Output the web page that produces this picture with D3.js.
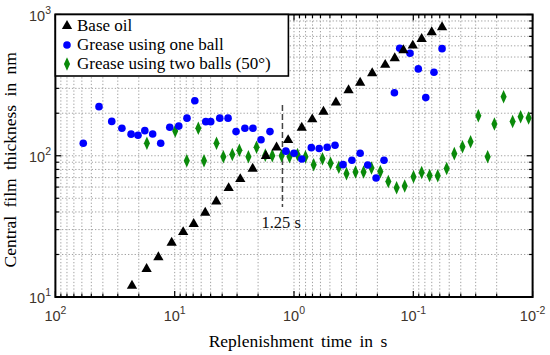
<!DOCTYPE html>
<html>
<head>
<meta charset="utf-8">
<script src="https://cdn.jsdelivr.net/npm/d3@7"></script>
<style>
  body { margin: 0; background: #fff; }
  svg { display: block; }
</style>
</head>
<body>
<svg id="chart" width="550" height="355"></svg>
<script>
// Replenishment time (s) and central film thickness (nm)
const baseTime = [22.8, 17.2, 13.7, 10.6, 8.49, 6.93, 5.55, 4.48, 3.53, 2.82, 2.22, 1.72, 1.40, 1.12,
  0.861, 0.703, 0.566, 0.445, 0.349, 0.279, 0.221, 0.172, 0.143, 0.121, 0.101, 0.0851, 0.0701, 0.0574];
const baseFilm = [12.0, 15.8, 19.1, 24.2, 28.8, 32.9, 39.5, 47.5, 59.0, 68.3, 80.9, 99.7, 114.5, 129,
  158, 181, 205, 238, 291, 329, 384, 440, 490, 559, 602, 670, 749, 813];

const oneTime = [58.4, 43.1, 33.7, 27.7, 23.2, 20.3, 17.8, 15.3, 13.1, 11.0, 9.24, 7.89, 6.78, 5.49, 4.99,
  4.19, 3.57, 3.06, 2.58, 2.21, 1.89, 1.59, 1.17, 1.00, 0.860, 0.716, 0.615, 0.527, 0.453, 0.388, 0.327,
  0.279, 0.241, 0.205, 0.176, 0.144, 0.130, 0.1066, 0.0908, 0.0786, 0.0671, 0.0574];
const oneFilm = [122.6, 222.7, 175, 156.6, 142.2, 139.7, 150.6, 142.7, 122.6, 159.2, 162.1, 184.6, 245.3, 174.4, 174.4,
  184.6, 184.6, 148.2, 156.6, 156.6, 129.8, 148.2, 107.8, 104.2, 94.9, 114.1, 112.6, 114.9, 118.7, 86.5, 92.9,
  104.2, 86.1, 69.6, 92.9, 279.3, 577, 532, 412, 258, 390, 573];

const twoTime = [17.1, 9.90, 7.92, 6.34, 5.68, 4.46, 3.91, 3.29, 2.87, 2.41, 2.06, 1.74, 1.52, 1.27, 1.09,
  0.935, 0.801, 0.684, 0.577, 0.494, 0.421, 0.363, 0.305, 0.261, 0.224, 0.189, 0.162, 0.138, 0.118,
  0.0996, 0.0851, 0.0730, 0.0624, 0.0525, 0.0453, 0.0387, 0.0331, 0.0285, 0.0238, 0.0209, 0.0175,
  0.0147, 0.0126, 0.0108];
const twoFilm = [122.6, 149.8, 92.3, 156.6, 92.3, 122.6, 98.5, 102.1, 109.4, 98.5, 114.9, 101, 100.2, 100, 98.5,
  102.1, 98.5, 86.4, 95.2, 88.5, 82.9, 74.7, 76.8, 76.8, 81.9, 77.2, 65.8, 59.4, 61.1,
  71.0, 76.2, 72.5, 72.2, 81.3, 103.5, 116.0, 125.7, 192, 98.5, 168, 262,
  175, 189, 185];

const legendLabels = ["Base oil", "Grease using one ball", "Grease using two balls (50°)"];
const xTickExp = [2, 1, 0, -1, -2];
const yTickExp = [3, 2, 1];
const markTime = 1.25;

const svg = d3.select("#chart");
const pLeft = 55.4, pRight = 532.6, pTop = 14.5, pBottom = 297;

const x = d3.scaleLog().domain([100, 0.01]).range([pLeft, pRight]);
const y = d3.scaleLog().domain([10, 1000]).range([pBottom, pTop]);

// all grid positions: 1..9 times each power of ten
const xGrid = [];
for (let e = -2; e < 2; e++) for (let k = 1; k < 10; k++) xGrid.push(k * Math.pow(10, e));
xGrid.push(100);
const yGrid = [];
for (let e = 1; e < 3; e++) for (let k = 1; k < 10; k++) yGrid.push(k * Math.pow(10, e));
yGrid.push(1000);

const grid = svg.append("g")
  .attr("stroke", "#a0a0a0")
  .attr("stroke-width", 1)
  .attr("stroke-dasharray", "1.3,2");
grid.selectAll(".gx").data(xGrid).enter().append("line")
  .attr("x1", d => x(d)).attr("x2", d => x(d))
  .attr("y1", pTop).attr("y2", pBottom);
grid.selectAll(".gy").data(yGrid).enter().append("line")
  .attr("x1", pLeft).attr("x2", pRight)
  .attr("y1", d => y(d)).attr("y2", d => y(d));

// inward ticks on all four sides
const isMajor = d => Math.abs(Math.log10(d) - Math.round(Math.log10(d))) < 1e-9;
const tk = svg.append("g").attr("stroke", "#000").attr("stroke-width", 1.2);
xGrid.forEach(d => {
  const len = isMajor(d) ? 6 : 3.5;
  tk.append("line").attr("x1", x(d)).attr("x2", x(d)).attr("y1", pBottom).attr("y2", pBottom - len);
  tk.append("line").attr("x1", x(d)).attr("x2", x(d)).attr("y1", pTop).attr("y2", pTop + len);
});
yGrid.forEach(d => {
  const len = isMajor(d) ? 6 : 3.5;
  tk.append("line").attr("y1", y(d)).attr("y2", y(d)).attr("x1", pLeft).attr("x2", pLeft + len);
  tk.append("line").attr("y1", y(d)).attr("y2", y(d)).attr("x1", pRight).attr("x2", pRight - len);
});

// dashed marker at 1.25 s
svg.append("line")
  .attr("x1", x(markTime)).attr("x2", x(markTime))
  .attr("y1", 105).attr("y2", 207)
  .attr("stroke", "#444").attr("stroke-width", 1.5)
  .attr("stroke-dasharray", "6,3");
svg.append("text")
  .attr("x", x(markTime) - 21).attr("y", 228)
  .attr("font-family", "Liberation Serif, serif").attr("font-size", 16.5)
  .attr("fill", "#111")
  .text("1.25 s");

// markers
const tri = d3.symbol().type(d3.symbolTriangle).size(46);
const dia = d3.symbol().type(d3.symbolDiamond).size(40);

svg.append("g").selectAll("path").data(twoTime).enter().append("path")
  .attr("d", dia)
  .attr("transform", (d, i) => `translate(${x(d)},${y(twoFilm[i])}) scale(0.9,1.15)`)
  .attr("fill", "#0a8a0a");

svg.append("g").selectAll("circle").data(oneTime).enter().append("circle")
  .attr("cx", d => x(d)).attr("cy", (d, i) => y(oneFilm[i]))
  .attr("r", 3.8)
  .attr("fill", "#0000ff");

svg.append("g").selectAll("path").data(baseTime).enter().append("path")
  .attr("d", tri)
  .attr("transform", (d, i) => `translate(${x(d)},${y(baseFilm[i])})`)
  .attr("fill", "#000");

// frame
svg.append("rect")
  .attr("x", pLeft).attr("y", pTop)
  .attr("width", pRight - pLeft).attr("height", pBottom - pTop)
  .attr("fill", "none").attr("stroke", "#000").attr("stroke-width", 2);

// legend
const lg = svg.append("g");
lg.append("rect")
  .attr("x", pLeft).attr("y", pTop).attr("width", 233).attr("height", 61.5)
  .attr("fill", "#fff").attr("stroke", "#000").attr("stroke-width", 1.6);
const legendRows = [26, 45, 64];
lg.append("path").attr("d", tri).attr("transform", `translate(67,${legendRows[0]})`).attr("fill", "#000");
lg.append("circle").attr("cx", 67).attr("cy", legendRows[1]).attr("r", 3.8).attr("fill", "#0000ff");
lg.append("path").attr("d", dia)
  .attr("transform", `translate(67,${legendRows[2]}) scale(0.9,1.15)`).attr("fill", "#0a8a0a");
lg.selectAll("text").data(legendLabels).enter().append("text")
  .attr("x", 77).attr("y", (d, i) => legendRows[i] + 5)
  .attr("font-family", "Liberation Serif, serif").attr("font-size", 17)
  .attr("fill", "#000")
  .text(d => d);

// tick labels as 10^n
const tickFont = "Liberation Sans, sans-serif";
const tickColor = "#3d342c";
function powLabel(sel, e) {
  sel.append("tspan").text("10");
  sel.append("tspan").attr("dy", -7).attr("font-size", 10.5).text(e);
}
xTickExp.forEach(e => {
  const t = svg.append("text")
    .attr("x", x(Math.pow(10, e))).attr("y", 321)
    .attr("text-anchor", "middle")
    .attr("font-family", tickFont).attr("font-size", 14.5)
    .attr("fill", tickColor);
  powLabel(t, e);
});
yTickExp.forEach(e => {
  const t = svg.append("text")
    .attr("x", 29).attr("y", y(Math.pow(10, e)) + 6)
    .attr("font-family", tickFont).attr("font-size", 14.5)
    .attr("fill", tickColor);
  powLabel(t, e);
});

// axis titles
svg.append("text")
  .attr("x", 298).attr("y", 347)
  .attr("text-anchor", "middle")
  .attr("font-family", "Liberation Serif, serif").attr("font-size", 17.5)
  .attr("word-spacing", 3)
  .text("Replenishment time in s");
svg.append("text")
  .attr("transform", `translate(16,${(pTop + pBottom) / 2 + 4}) rotate(-90)`)
  .attr("text-anchor", "middle")
  .attr("font-family", "Liberation Serif, serif").attr("font-size", 17.5)
  .attr("word-spacing", 4)
  .text("Central film thickness in nm");
</script>
</body>
</html>
